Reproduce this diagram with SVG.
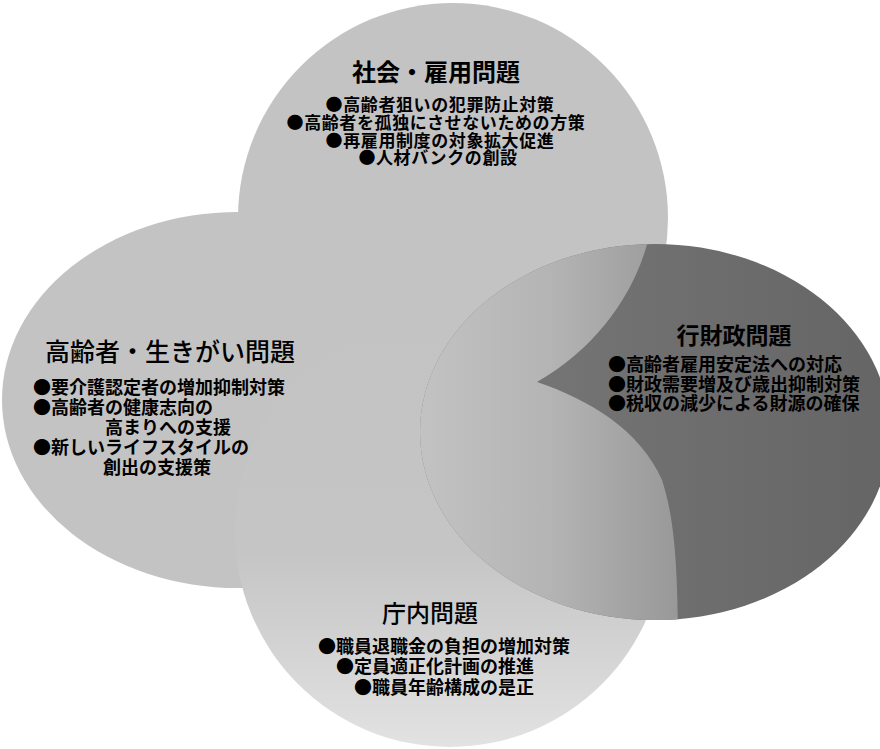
<svg xmlns="http://www.w3.org/2000/svg" width="880" height="749" viewBox="0 0 880 749">
<defs>
<style>
text{font-family:"Noto Sans CJK JP","Noto Sans CJK SC",sans-serif;fill:#000}
.t{font-size:24px;font-weight:500}
.tb{font-size:24px;font-weight:700}
.i{font-size:18px;font-weight:700}
.s{font-size:17px;letter-spacing:0.6px}
.m{text-anchor:middle}
</style>
<linearGradient id="gB" x1="0" y1="0" x2="0" y2="1">
<stop offset="0" stop-color="#c3c3c3"/>
<stop offset="0.55" stop-color="#c5c5c5"/>
<stop offset="1" stop-color="#e2e2e2"/>
</linearGradient>
<linearGradient id="gL" x1="422" y1="0" x2="680" y2="0" gradientUnits="userSpaceOnUse">
<stop offset="0" stop-color="#c2c2c2"/>
<stop offset="0.5" stop-color="#b4b4b4"/>
<stop offset="1" stop-color="#989898"/>
</linearGradient>
<linearGradient id="gD" x1="0" y1="0" x2="1" y2="0">
<stop offset="0" stop-color="#7a7a7a"/>
<stop offset="1" stop-color="#656565"/>
</linearGradient>
<clipPath id="cR"><ellipse cx="655" cy="432" rx="235" ry="188"/></clipPath>
</defs>
<g id="left-node">
<ellipse cx="238" cy="400" rx="236" ry="188" fill="#c3c3c3"/>
</g>
<g id="top-node">
<circle cx="453" cy="218" r="215" fill="#c3c3c3"/>
</g>
<g id="bottom-node">
<circle cx="450" cy="532" r="215" fill="url(#gB)"/>
</g>
<g id="right-node">
<ellipse cx="655" cy="432" rx="235" ry="188" fill="url(#gD)"/>
<path clip-path="url(#cR)" fill="url(#gL)" d="M400,200 L655,200 C650,270 610,340 537,382 C590,400 640,430 662,480 C675,520 678,570 678,650 L400,650 Z"/>
</g>
<g id="connectors"></g>
<g id="labels-top">
<text class="tb m" x="436" y="81">社会・雇用問題</text>
<text class="i s m" x="440" y="111">●高齢者狙いの犯罪防止対策</text>
<text class="i s m" x="436" y="129">●高齢者を孤独にさせないための方策</text>
<text class="i s m" x="440" y="147">●再雇用制度の対象拡大促進</text>
<text class="i s m" x="438" y="164">●人材バンクの創設</text>
</g>
<g id="labels-left">
<text class="t" x="45" y="361" style="font-size:25px">高齢者・生きがい問題</text>
<text class="i" x="33" y="394">●要介護認定者の増加抑制対策</text>
<text class="i" x="33" y="414">●高齢者の健康志向の</text>
<text class="i" x="105" y="434">高まりへの支援</text>
<text class="i" x="33" y="454">●新しいライフスタイルの</text>
<text class="i" x="103" y="474">創出の支援策</text>
</g>
<g id="labels-right">
<text class="tb m" x="734" y="344" style="font-size:23px">行財政問題</text>
<text class="i" x="608" y="371">●高齢者雇用安定法への対応</text>
<text class="i" x="608" y="391">●財政需要増及び歳出抑制対策</text>
<text class="i" x="608" y="410">●税収の減少による財源の確保</text>
</g>
<g id="labels-bottom">
<text class="t m" x="430" y="622">庁内問題</text>
<text class="i m" x="444" y="653">●職員退職金の負担の増加対策</text>
<text class="i m" x="435" y="673">●定員適正化計画の推進</text>
<text class="i m" x="444" y="694">●職員年齢構成の是正</text>
</g>
</svg>
